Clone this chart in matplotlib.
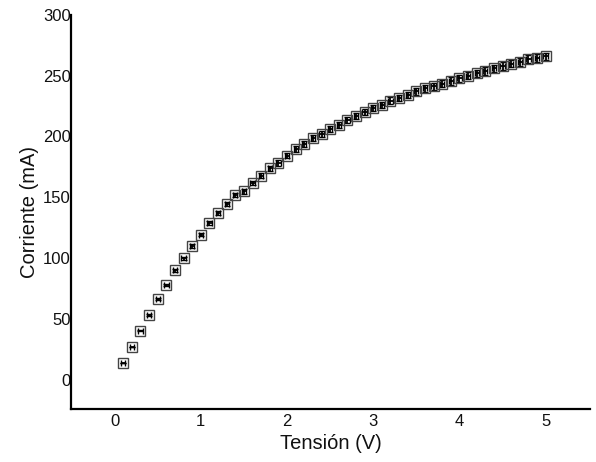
import matplotlib
matplotlib.use("Agg")
import matplotlib.pyplot as plt

# voltage steps (V) and measured current (mA)
tension = [round(0.1 * k, 1) for k in range(1, 51)]
corriente = [
    13.7, 26.9, 40.3, 53.4, 66.3, 77.8, 89.8, 100.0, 109.9, 119.2,
    128.8, 137.0, 144.4, 151.8, 154.8, 161.7, 167.7, 174.0, 178.1, 184.1,
    189.6, 193.7, 198.4, 201.9, 206.0, 209.6, 213.7, 217.0, 220.3, 223.3,
    225.8, 229.3, 231.5, 234.0, 237.0, 239.5, 241.1, 243.3, 245.5, 247.7,
    249.9, 251.8, 253.7, 255.9, 258.1, 259.8, 261.2, 263.4, 264.5, 265.8,
]
x_ticks = [0, 1, 2, 3, 4, 5]
y_ticks = [0, 50, 100, 150, 200, 250, 300]

# instrument uncertainty
x_err = 0.025
y_err_frac = 0.012

plt.rcParams["font.family"] = ["Liberation Sans", "DejaVu Sans"]

fig = plt.figure(figsize=(5.96, 4.62), dpi=100)
ax = fig.add_axes([0.119, 0.115, 0.871, 0.853])

y_err = [c * y_err_frac for c in corriente]
ax.errorbar(tension, corriente, xerr=x_err, yerr=y_err, fmt="s",
            markersize=6.5, mfc="none", mec="#444444", mew=1.0,
            ecolor="black", elinewidth=1.3, capsize=2, capthick=1.3)

ax.set_xlim(-0.507, 5.515)
ax.set_ylim(-24, 300)
ax.set_xticks(x_ticks)
ax.set_yticks(y_ticks)
ax.tick_params(length=0, labelsize=12, colors="#111111")
ax.tick_params(axis="x", pad=4)
ax.tick_params(axis="y", pad=0)

for side in ("top", "right"):
    ax.spines[side].set_visible(False)
for side in ("left", "bottom"):
    ax.spines[side].set_linewidth(1.6)

ax.set_xlabel("Tensión (V)", fontsize=14.5, labelpad=3, color="#111111")
ax.set_ylabel("Corriente (mA)", fontsize=14.5, labelpad=3, color="#111111")

fig.savefig("out.png", dpi=100)
